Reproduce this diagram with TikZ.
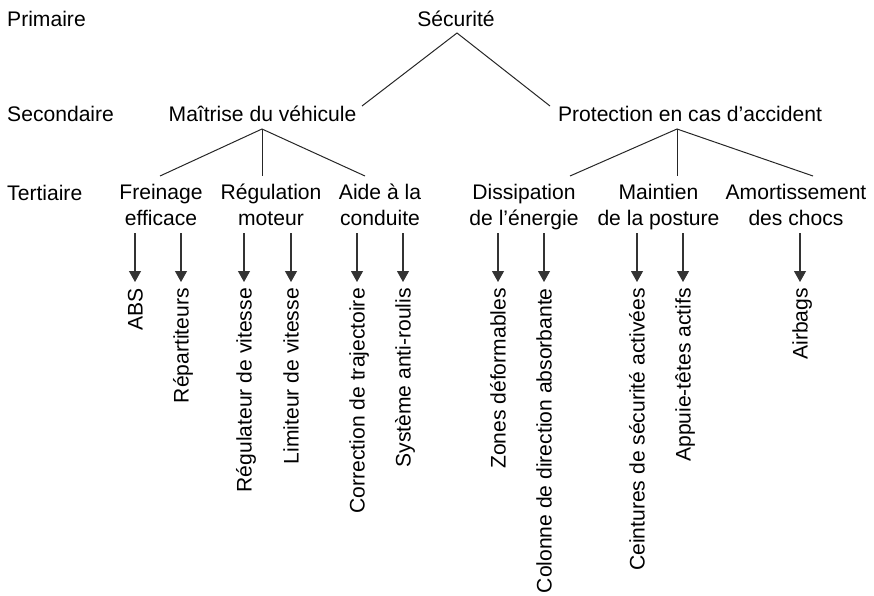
\documentclass[tikz,border=0pt]{standalone}
\usepackage{fontspec}
\setmainfont{Liberation Sans}
\usetikzlibrary{arrows.meta}
\begin{document}
\begin{tikzpicture}[x=1pt,y=-1pt,
  lbl/.style={inner sep=0pt,font=\fontsize{21.1}{26}\selectfont},
  mid/.style={lbl,align=center,anchor=base},
  leaf/.style={lbl,rotate=90,anchor=east,text height=15pt,text depth=0pt},
  tree/.style={draw=black!85,line width=1pt},
  arr/.style={draw=black!80,line width=1.1pt,-{Triangle[width=12pt,length=11pt]}}]
\useasboundingbox (0,0) rectangle (874,595);
% level labels
\node[lbl,anchor=base west] (lp) at (7,26.7) {Primaire};
\node[lbl,anchor=base west] (ls) at (7,121.7) {Secondaire};
\node[lbl,anchor=base west] (lt) at (7,200) {Tertiaire};
% primary / secondary
\node[mid] (sec) at (456,26.7) {Sécurité};
\node[mid] (mai) at (262.5,121.7) {Maîtrise du véhicule};
\node[mid] (pro) at (690,121.7) {Protection en cas d’accident};
% tertiary (base = baseline of the last line)
\node[mid] (fre) at (161,225.5) {Freinage\\efficace};
\node[mid] (reg) at (271,225.5) {Régulation\\moteur};
\node[mid] (aid) at (380,225.5) {Aide à la\\conduite};
\node[mid] (dis) at (524,225.5) {Dissipation\\de l’énergie};
\node[mid] (mpo) at (658.5,225.5) {Maintien\\de la posture};
\node[mid] (amo) at (796,225.5) {Amortissement\\des chocs};
% connector points
\coordinate (secB) at (457,33);
\coordinate (maiT) at (362,106);
\coordinate (proT) at (550,106);
\coordinate (maiB) at (262,129);
\coordinate (proB) at (677,129);
\coordinate (freT) at (160,176);
\coordinate (regT) at (262,176);
\coordinate (aidT) at (365,176);
\coordinate (disT) at (570,176);
\coordinate (mpoT) at (677,176);
\coordinate (amoT) at (813,176);
\draw[tree] (maiT) -- (secB) -- (proT);
\draw[tree] (freT) -- (maiB) -- (aidT);
\draw[tree] (maiB) -- (regT);
\draw[tree] (disT) -- (proB) -- (amoT);
\draw[tree] (proB) -- (mpoT);
% leaves
\foreach \n/\x/\t in {
  l1/135/ABS, l2/181/Répartiteurs,
  l3/244/Régulateur de vitesse, l4/291/Limiteur de vitesse,
  l5/357/Correction de trajectoire, l6/403/Système anti-roulis,
  l7/498/Zones déformables, l8/544/Colonne de direction absorbante,
  l9/637/Ceintures de sécurité activées, l10/683/Appuie-têtes actifs,
  l11/800/Airbags}{
  \node[leaf] (\n) at (\x,288) {\t};
  \coordinate (\n s) at (\x,233);
  \draw[arr] (\n s) -- ([yshift=6pt]\n.east);
}
\end{tikzpicture}
\end{document}
